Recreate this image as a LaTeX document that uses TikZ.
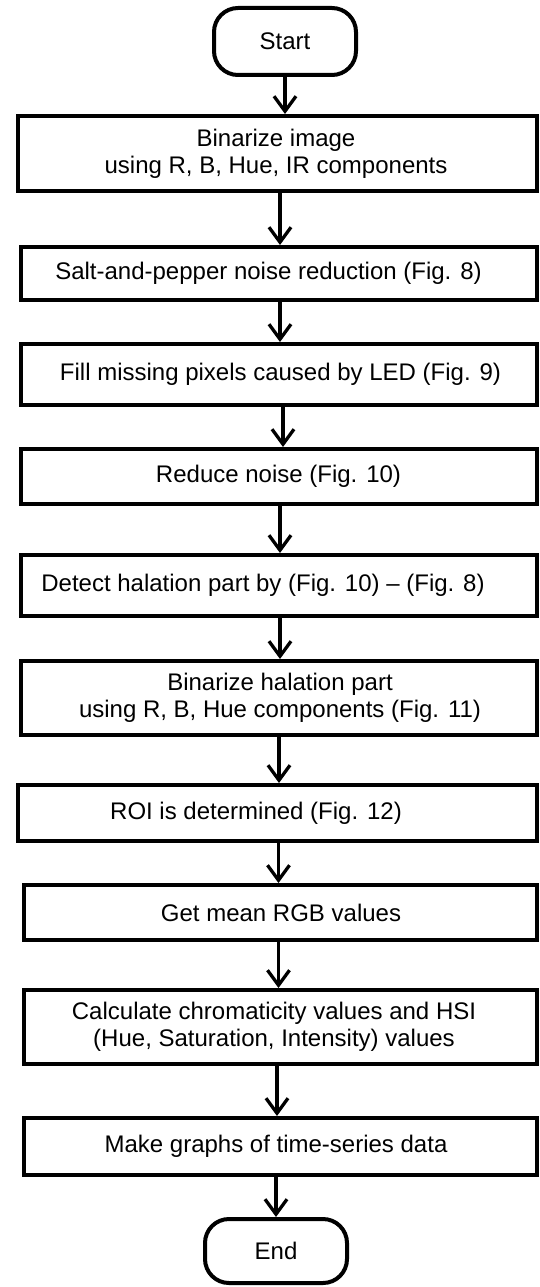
\documentclass[tikz,border=0pt]{standalone}
\usepackage{fontspec}
\setmainfont{Liberation Sans}
\usetikzlibrary{arrows.meta}
\begin{document}
\begin{tikzpicture}[x=1pt,y=-1pt,
  every node/.style={font=\fontsize{24}{27}\selectfont, inner sep=0pt, align=center},
  box/.style={draw, line width=4pt, rectangle},
  term/.style={draw, line width=4pt, rectangle, rounded corners=24pt},
  lbl/.style={text=black},
  arr/.style={line width=3.3pt, -{Straight Barb[length=15pt,width=22pt]}}]
\useasboundingbox (0,0) rectangle (540,1287);
% shapes
\node[term, minimum width=142pt, minimum height=67pt] (s) at (285,41.5) {};
\node[box, minimum width=519.5pt, minimum height=75pt] (b1) at (277.25,153.5) {};
\node[box, minimum width=516.5pt, minimum height=53pt] (b2) at (278.75,273.5) {};
\node[box, minimum width=516.5pt, minimum height=61pt] (b3) at (278.75,374.5) {};
\node[box, minimum width=516.5pt, minimum height=55pt] (b4) at (278.75,476.5) {};
\node[box, minimum width=516.5pt, minimum height=61pt] (b5) at (278.75,585.5) {};
\node[box, minimum width=516.5pt, minimum height=74pt] (b6) at (278.75,698) {};
\node[box, minimum width=519.5pt, minimum height=56pt] (b7) at (277.25,813) {};
\node[box, minimum width=513.5pt, minimum height=55pt] (b8) at (280.25,912.5) {};
\node[box, minimum width=513.5pt, minimum height=74pt] (b9) at (280.25,1027) {};
\node[box, minimum width=513.5pt, minimum height=57pt] (b10) at (280.25,1146.5) {};
\node[term, minimum width=142pt, minimum height=64pt] (e) at (276,1251) {};
% texts
\node[lbl] (ts) at (s.center) {Start};
\node[lbl] (t1) at (b1.center -| 276,0) {Binarize image\\using R, B, Hue, IR components};
\node[lbl] (t2) at (b2.center -| 268.5,0) {Salt-and-pepper noise reduction (Fig. 8)};
\node[lbl] (t3) at (b3.center -| 280.5,0) {Fill missing pixels caused by LED (Fig. 9)};
\node[lbl] (t4) at (b4.center -| 278.5,0) {Reduce noise (Fig. 10)};
\node[lbl] (t5) at (b5.center -| 263,0) {Detect halation part by (Fig. 10) – (Fig. 8)};
\node[lbl] (t6) at (b6.center -| 280,0) {Binarize halation part\\using R, B, Hue components (Fig. 11)};
\node[lbl] (t7) at (b7.center -| 256,0) {ROI is determined (Fig. 12)};
\node[lbl] (t8) at (b8.center -| 281,0) {Get mean RGB values};
\node[lbl] (t9) at (b9.center -| 274,0) {Calculate chromaticity values and HSI\\(Hue, Saturation, Intensity) values};
\node[lbl] (t10) at (b10.center -| 276,0) {Make graphs of time-series data};
\node[lbl] (te) at (e.center) {End};
% connectors
\draw[arr] (s.south -| 285,0) -- (b1.north -| 285,0);
\draw[arr] (b1.south -| 280,0) -- (b2.north -| 280,0);
\draw[arr] (b2.south -| 280,0) -- (b3.north -| 280,0);
\draw[arr] (b3.south -| 283,0) -- (b4.north -| 283,0);
\draw[arr] (b4.south -| 280,0) -- (b5.north -| 280,0);
\draw[arr] (b5.south -| 280,0) -- (b6.north -| 280,0);
\draw[arr] (b6.south -| 279,0) -- (b7.north -| 279,0);
\draw[arr] (b7.south -| 278.5,0) -- (b8.north -| 278.5,0);
\draw[arr] (b8.south -| 278.5,0) -- (b9.north -| 278.5,0);
\draw[arr] (b9.south -| 277,0) -- (b10.north -| 277,0);
\draw[arr] (b10.south -| 276,0) -- (e.north -| 276,0);
\end{tikzpicture}
\end{document}
